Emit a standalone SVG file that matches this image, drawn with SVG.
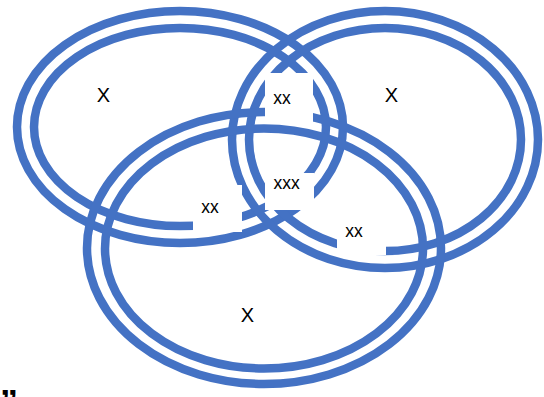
<svg xmlns="http://www.w3.org/2000/svg" width="544" height="397" viewBox="0 0 544 397">
<style>
.ring{fill:none;stroke:#4472C4;stroke-width:8.5}
.mask{fill:#FFFFFF;stroke:none}
.big{font-family:"Liberation Sans",Arial,sans-serif;font-size:20px;fill:#000;text-anchor:middle}
.small{font-family:"Liberation Sans",Arial,sans-serif;font-size:17.5px;fill:#000;text-anchor:middle}
</style>
<rect x="0" y="0" width="544" height="397" fill="#FFFFFF"/>
<g id="connectors"></g>
<g id="set-left">
<ellipse class="ring" cx="180" cy="127" rx="163" ry="116"/>
<ellipse class="ring" cx="180" cy="127" rx="146" ry="99"/>
</g>
<g id="set-right">
<ellipse class="ring" cx="385" cy="139.5" rx="153" ry="128.5"/>
<ellipse class="ring" cx="385" cy="139.5" rx="136" ry="111.5"/>
</g>
<g id="set-bottom">
<ellipse class="ring" cx="264" cy="248" rx="177" ry="136"/>
<ellipse class="ring" cx="264" cy="248.5" rx="159" ry="120"/>
</g>
<g id="label-left"><text class="big" x="103.5" y="102">X</text></g>
<g id="label-right"><text class="big" x="391.5" y="102">X</text></g>
<g id="label-bottom"><text class="big" x="247.5" y="322">X</text></g>
<g id="label-top-xx">
<rect class="mask" x="265" y="73" width="48" height="49"/>
<text class="small" x="282" y="104">xx</text>
</g>
<g id="label-center-xxx">
<rect class="mask" x="265" y="173" width="49" height="37"/>
<text class="small" x="286.5" y="189">xxx</text>
</g>
<g id="label-left-xx">
<rect class="mask" x="193" y="185" width="49" height="47"/>
<text class="small" x="210" y="213">xx</text>
</g>
<g id="label-right-xx">
<rect class="mask" x="337" y="213" width="49" height="42"/>
<text class="small" x="354" y="237">xx</text>
</g>
<text x="0" y="416" font-family="Liberation Sans, Arial, sans-serif" font-size="36" font-weight="bold" fill="#000">”</text>
</svg>
